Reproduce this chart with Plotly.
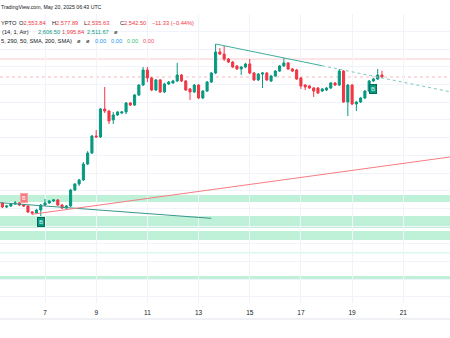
import pandas as pd
import plotly.graph_objects as go

# ---- 4h OHLC bars, 5 May 08:00 UTC -> 20 May 04:00 UTC ----
bar_open = [
    1831, 1808, 1814, 1825, 1831, 1819, 1814, 1780, 1774, 1791,
    1819, 1831, 1842, 1848, 1819, 1802, 1814, 1904, 1938, 1961,
    2051, 2113, 2209, 2204, 2362, 2350, 2300, 2328, 2339, 2345,
    2396, 2384, 2441, 2497, 2582, 2537, 2469, 2526, 2458, 2503,
    2509, 2520, 2554, 2520, 2475, 2458, 2497, 2424, 2463, 2514,
    2565, 2684, 2672, 2644, 2627, 2605, 2588, 2599, 2616, 2565,
    2526, 2559, 2565, 2520, 2548, 2576, 2605, 2622, 2588, 2582,
    2537, 2497, 2492, 2480, 2480, 2463, 2469, 2480, 2509, 2497,
    2576, 2401, 2497, 2390, 2401, 2424, 2463, 2520, 2531, 2553.84,
]
bar_high = [
    1836, 1819, 1831, 1842, 1836, 1825, 1819, 1785, 1797, 1825,
    1853, 1848, 1853, 1853, 1825, 1819, 1910, 1943, 1966, 2062,
    2124, 2215, 2243, 2367, 2486, 2356, 2345, 2350, 2350, 2401,
    2401, 2446, 2503, 2599, 2599, 2543, 2531, 2531, 2509, 2520,
    2526, 2622, 2559, 2526, 2480, 2503, 2503, 2469, 2520, 2571,
    2729, 2706, 2718, 2650, 2633, 2610, 2605, 2622, 2644, 2571,
    2565, 2571, 2571, 2554, 2582, 2610, 2650, 2627, 2593, 2588,
    2543, 2503, 2497, 2486, 2486, 2480, 2486, 2514, 2514, 2588,
    2582, 2503, 2503, 2407, 2430, 2469, 2526, 2537, 2588, 2577.89,
]
bar_low = [
    1802, 1802, 1808, 1819, 1814, 1808, 1774, 1763, 1769, 1757,
    1814, 1825, 1836, 1814, 1797, 1797, 1808, 1898, 1927, 1955,
    2045, 2107, 2198, 2198, 2339, 2277, 2277, 2322, 2333, 2333,
    2379, 2379, 2435, 2492, 2514, 2463, 2463, 2452, 2452, 2497,
    2503, 2514, 2514, 2463, 2413, 2452, 2418, 2418, 2458, 2509,
    2559, 2667, 2633, 2622, 2593, 2582, 2554, 2593, 2559, 2520,
    2520, 2480, 2520, 2514, 2543, 2571, 2599, 2582, 2571, 2526,
    2475, 2469, 2475, 2430, 2446, 2458, 2463, 2475, 2492, 2492,
    2396, 2322, 2384, 2350, 2396, 2418, 2458, 2514, 2526, 2535.63,
]
bar_close = [
    1808, 1814, 1825, 1831, 1819, 1814, 1780, 1774, 1791, 1819,
    1831, 1842, 1848, 1819, 1802, 1814, 1904, 1938, 1961, 2051,
    2113, 2209, 2204, 2362, 2350, 2294, 2328, 2345, 2345, 2396,
    2384, 2441, 2497, 2582, 2537, 2469, 2526, 2458, 2503, 2514,
    2520, 2554, 2520, 2469, 2458, 2497, 2424, 2463, 2514, 2565,
    2684, 2672, 2644, 2627, 2599, 2588, 2599, 2616, 2565, 2526,
    2559, 2565, 2526, 2548, 2576, 2605, 2622, 2588, 2576, 2531,
    2492, 2486, 2480, 2463, 2452, 2475, 2480, 2509, 2497, 2576,
    2401, 2497, 2390, 2401, 2424, 2463, 2520, 2531, 2554, 2542.50,
]
bar_times = pd.date_range("2025-05-05 08:00", periods=len(bar_close), freq="4h")

# ---- drawings ----
zone_low = [1836, 1689, 1622, 1546, 1396]
zone_high = [1876, 1757, 1672, 1551, 1418]

resistance_times = ["2025-05-13 16:00", "2025-05-17 20:00"]
resistance_prices = [2729, 2606]
resistance_ext_times = ["2025-05-17 20:00", "2025-05-23 00:00"]
resistance_ext_prices = [2606, 2454]

old_trend_times = ["2025-05-05 00:00", "2025-05-13 12:00"]
old_trend_prices = [1835, 1744]

rising_times = ["2025-05-06 12:00", "2025-05-23 00:00"]
rising_prices = [1767, 2094]

level_price = 2644
last_close = bar_close[-1]

signal_times = ["2025-05-06 04:00", "2025-05-06 20:00", "2025-05-19 20:00"]
signal_prices = [1859, 1726, 2472]
signal_kind = ["sell", "buy", "buy"]

axis_days = ["2025-05-07", "2025-05-09", "2025-05-11", "2025-05-13",
             "2025-05-15", "2025-05-17", "2025-05-19", "2025-05-21"]
axis_labels = ["7", "9", "11", "13", "15", "17", "19", "21"]

UP = "#089981"
DOWN = "#f23645"
TEXT = "#131722"
GRID = "#f0f3fa"
FONT = "Liberation Sans"

W, H = 450, 338
TOP, BOTTOM = 14, 303  # plot area in pixels

fig = go.Figure()

for lo, hi in zip(zone_low, zone_high):
    fig.add_hrect(y0=lo, y1=hi, fillcolor="#bff1d9", line_width=0, layer="below")

fig.add_hline(y=level_price, line=dict(color="#f9c9cc", width=1), layer="below")
fig.add_hline(y=last_close, line=dict(color="#f9b9bd", width=1, dash="3px,3px"), layer="below")

fig.add_trace(go.Scatter(x=old_trend_times, y=old_trend_prices, mode="lines",
                         line=dict(color="#3a968a", width=1), hoverinfo="skip"))
fig.add_trace(go.Scatter(x=rising_times, y=rising_prices, mode="lines",
                         line=dict(color="#f77c82", width=1), hoverinfo="skip"))
fig.add_trace(go.Scatter(x=resistance_times, y=resistance_prices, mode="lines",
                         line=dict(color="#3fae9a", width=1), hoverinfo="skip"))
fig.add_trace(go.Scatter(x=resistance_ext_times, y=resistance_ext_prices, mode="lines",
                         line=dict(color="#7cc9bb", width=1, dash="3px,3px"), hoverinfo="skip"))

fig.add_trace(go.Candlestick(
    x=bar_times, open=bar_open, high=bar_high, low=bar_low, close=bar_close,
    increasing=dict(line=dict(color=UP, width=1), fillcolor=UP),
    decreasing=dict(line=dict(color=DOWN, width=1), fillcolor=DOWN),
    whiskerwidth=0, hoverinfo="skip",
))

for t, p, kind in zip(signal_times, signal_prices, signal_kind):
    if kind == "sell":
        style = dict(bgcolor="#f77c80", bordercolor="#f5a3a6", font=dict(size=5.5, color="white", family=FONT))
    else:
        style = dict(bgcolor=UP, bordercolor="#05695a", font=dict(size=6, color="#d9f5ee", family=FONT))
    fig.add_annotation(x=t, y=p, xref="x", yref="y", text="B", showarrow=False,
                       borderwidth=1, borderpad=1, **style)


def py(ypix):
    return (BOTTOM - ypix) / (BOTTOM - TOP)


def note(text, xpix, ypix, color=TEXT, size=5.7):
    fig.add_annotation(x=xpix / W, y=py(ypix), xref="paper", yref="paper",
                       xanchor="left", yanchor="middle", text=text, showarrow=False,
                       font=dict(size=size, color=color, family=FONT), borderpad=0)


note("TradingView.com, May 20, 2025 06:43 UTC", 0, 7, size=5.2)

note("YPTO", 0, 23)
for label, value, xpix in [("O", "2,553.84", 17.5), ("H", "2,577.89", 51),
                           ("L", "2,535.63", 83), ("C", "2,542.50", 118.5)]:
    note(f"{label}<span style='color:{DOWN}'>{value}</span>", xpix, 23)
note("−11.33 (−0.44%)", 151, 23, color=DOWN)

note("(14, 1, Atr)", 1, 32)
note("2,606.50", 37, 32, color=UP)
note("1,995.84", 61, 32, color=DOWN)
note("2,511.67", 86, 32, color=UP)
note("ø", 113, 32)

note("5, 290, 50, SMA, 200, SMA)", 0, 41)
note("ø", 76, 41)
note("ø", 85, 41)
note("0.00", 94, 41, color="#2196f3")
note("0.00", 110, 41, color="#2196f3")
note("0.00", 126, 41, color="#35c46e")
note("0.00", 142, 41, color="#f7525f")

fig.add_shape(type="line", xref="paper", yref="paper", x0=0, x1=1,
              y0=py(319), y1=py(319), line=dict(color="#e0e3eb", width=1))

fig.update_layout(
    width=W, height=H,
    margin=dict(l=0, r=0, t=TOP, b=H - BOTTOM),
    paper_bgcolor="white", plot_bgcolor="white",
    showlegend=False,
    xaxis=dict(
        type="date", range=["2025-05-05 05:47", "2025-05-22 19:49"],
        tickvals=axis_days, ticktext=axis_labels,
        showgrid=True, gridcolor=GRID, gridwidth=1,
        zeroline=False, showline=False, ticks="",
        tickfont=dict(size=6.5, color=TEXT, family=FONT),
        ticklabelstandoff=4,
        rangeslider=dict(visible=False), fixedrange=True,
    ),
    yaxis=dict(
        range=[1265.6, 2898.45], dtick=100, tick0=0,
        showgrid=True, gridcolor=GRID, gridwidth=1,
        zeroline=False, showline=False, showticklabels=False, ticks="",
        fixedrange=True,
    ),
)

fig.write_html("out.html")
